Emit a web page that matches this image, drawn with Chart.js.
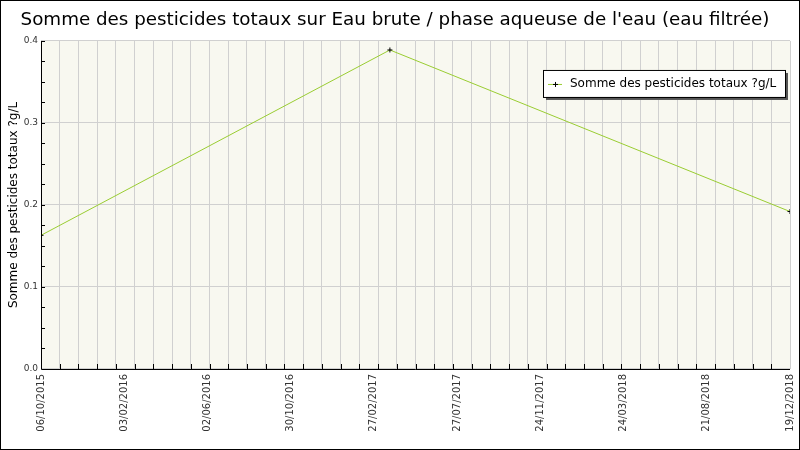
<!DOCTYPE html>
<html>
<head>
<meta charset="utf-8">
<script src="https://cdn.jsdelivr.net/npm/chart.js@4"></script>
<style>
  html, body { margin: 0; padding: 0; background: #fff; }
  #wrap { width: 800px; height: 450px; position: relative; }
</style>
</head>
<body>
<div id="wrap"><canvas id="chart"></canvas></div>
<script>
// tick labels on the x axis (evenly spaced, every 130 days)
const dateLabels = ['06/10/2015', '03/02/2016', '02/06/2016', '30/10/2016', '27/02/2017',
    '27/07/2017', '24/11/2017', '24/03/2018', '21/08/2018', '19/12/2018'];
// sample dates as days since 06/10/2015
const sampleDays = [0, 545, 1170];
const pesticideValues = [0.163, 0.389, 0.192];
const seriesLabel = 'Somme des pesticides totaux ?g/L';
const chartTitle = "Somme des pesticides totaux sur Eau brute / phase aqueuse de l'eau (eau filtrée)";

const totalDays = 1170;
const labelStep = totalDays / (dateLabels.length - 1);
const gridStep = totalDays / 40;
const font = "'DejaVu Sans', Verdana, sans-serif";

// background, axis lines, inner ticks, legend box
const decor = {
    id: 'decor',
    beforeDraw(chart) {
        const c = chart.ctx, a = chart.chartArea;
        c.save();
        c.fillStyle = '#fff';
        c.fillRect(0, 0, chart.width, chart.height);
        c.fillStyle = '#f8f8f0';
        c.fillRect(a.left, a.top, a.right - a.left, a.bottom - a.top);
        c.restore();
    },
    afterDraw(chart) {
        const c = chart.ctx, a = chart.chartArea;
        const xs = chart.scales.x, ys = chart.scales.y;
        c.save();
        c.strokeStyle = '#000';
        c.lineWidth = 1;
        c.beginPath();
        c.moveTo(a.left + 0.5, a.top);
        c.lineTo(a.left + 0.5, a.bottom + 0.5);
        c.lineTo(a.right, a.bottom + 0.5);
        c.stroke();
        c.beginPath();
        for (let v = gridStep; v < totalDays - 1; v += gridStep) {
            const px = Math.round(xs.getPixelForValue(v)) + 0.5;
            c.moveTo(px, a.bottom);
            c.lineTo(px, a.bottom - 5);
        }
        for (let i = 1; i <= 16; i++) {
            const py = Math.round(ys.getPixelForValue(i * 0.025)) + 0.5;
            c.moveTo(a.left, py);
            c.lineTo(a.left + 4, py);
        }
        c.stroke();

        const bx = a.right - 247, by = a.top + 29, bw = 242, bh = 27;
        c.fillStyle = '#555';
        c.fillRect(bx + 3, by + 3, bw, bh);
        c.fillStyle = '#fff';
        c.fillRect(bx, by, bw, bh);
        c.strokeStyle = '#000';
        c.strokeRect(bx + 0.5, by + 0.5, bw, bh);
        const my = by + 14;
        c.strokeStyle = '#9acd32';
        c.beginPath();
        c.moveTo(bx + 5, my + 0.5);
        c.lineTo(bx + 19, my + 0.5);
        c.stroke();
        c.strokeStyle = '#000';
        c.beginPath();
        c.moveTo(bx + 10, my + 0.5);
        c.lineTo(bx + 15, my + 0.5);
        c.moveTo(bx + 12.5, my - 2);
        c.lineTo(bx + 12.5, my + 3);
        c.stroke();
        c.fillStyle = '#000';
        c.font = '12px ' + font;
        c.textBaseline = 'middle';
        c.fillText(seriesLabel, bx + 27, my);
        c.restore();
    }
};

new Chart(document.getElementById('chart'), {
    type: 'line',
    data: {
        datasets: [{
            label: seriesLabel,
            data: sampleDays.map((d, i) => ({ x: d, y: pesticideValues[i] })),
            borderColor: '#9acd32',
            borderWidth: 1,
            pointStyle: 'cross',
            pointRadius: 2.5,
            pointBorderColor: '#000',
            pointBorderWidth: 1,
            tension: 0,
            xAxisID: 'x',
        }],
    },
    options: {
        responsive: true,
        maintainAspectRatio: false,
        animation: false,
        layout: { padding: { left: 0, right: 10, top: 0, bottom: 0 } },
        plugins: {
            legend: { display: false },
            tooltip: { enabled: false },
            title: {
                display: true,
                text: chartTitle,
                color: '#000',
                font: { family: font, size: 18.3, weight: 'normal' },
                padding: { top: 9, bottom: 10 },
            },
        },
        scales: {
            x: {
                type: 'linear',
                position: 'bottom',
                min: 0,
                max: totalDays,
                afterBuildTicks(scale) {
                    const t = [];
                    for (let i = 0; i <= 40; i++) t.push({ value: i * gridStep });
                    scale.ticks = t;
                },
                ticks: { display: false },
                grid: { color: '#d0d0d0', drawTicks: false },
                border: { display: false },
                afterFit(scale) { scale.height = 0; scale.paddingLeft = 0; scale.paddingRight = 0; },
            },
            x2: {
                type: 'linear',
                position: 'bottom',
                min: 0,
                max: totalDays,
                afterBuildTicks(scale) {
                    scale.ticks = dateLabels.map((l, i) => ({ value: i * labelStep }));
                },
                ticks: {
                    autoSkip: false,
                    minRotation: 90,
                    maxRotation: 90,
                    padding: 5,
                    color: '#333',
                    font: { family: font, size: 10 },
                    callback: (v, i) => dateLabels[i],
                },
                grid: { display: false, drawTicks: false },
                border: { display: false },
                afterFit(scale) { scale.height = 81; scale.paddingLeft = 0; scale.paddingRight = 0; },
            },
            y: {
                min: 0,
                max: 0.4,
                ticks: {
                    stepSize: 0.1,
                    padding: 3,
                    color: '#333',
                    font: { family: font, size: 9 },
                    callback: (v) => v.toFixed(1),
                },
                grid: { color: '#d0d0d0', drawTicks: false },
                border: { display: false },
                title: {
                    display: true,
                    text: seriesLabel,
                    color: '#000',
                    font: { family: font, size: 12 },
                    padding: { top: 7, bottom: 0 },
                },
                afterFit(scale) { scale.width = 41; scale.paddingTop = 0; scale.paddingBottom = 0; },
            },
        },
    },
    plugins: [decor, {
        id: 'frame',
        afterDraw(chart) {
            const c = chart.ctx;
            c.save();
            c.strokeStyle = '#000';
            c.lineWidth = 1;
            c.strokeRect(0.5, 0.5, chart.width - 1, chart.height - 1);
            c.restore();
        }
    }],
});
</script>
</body>
</html>
